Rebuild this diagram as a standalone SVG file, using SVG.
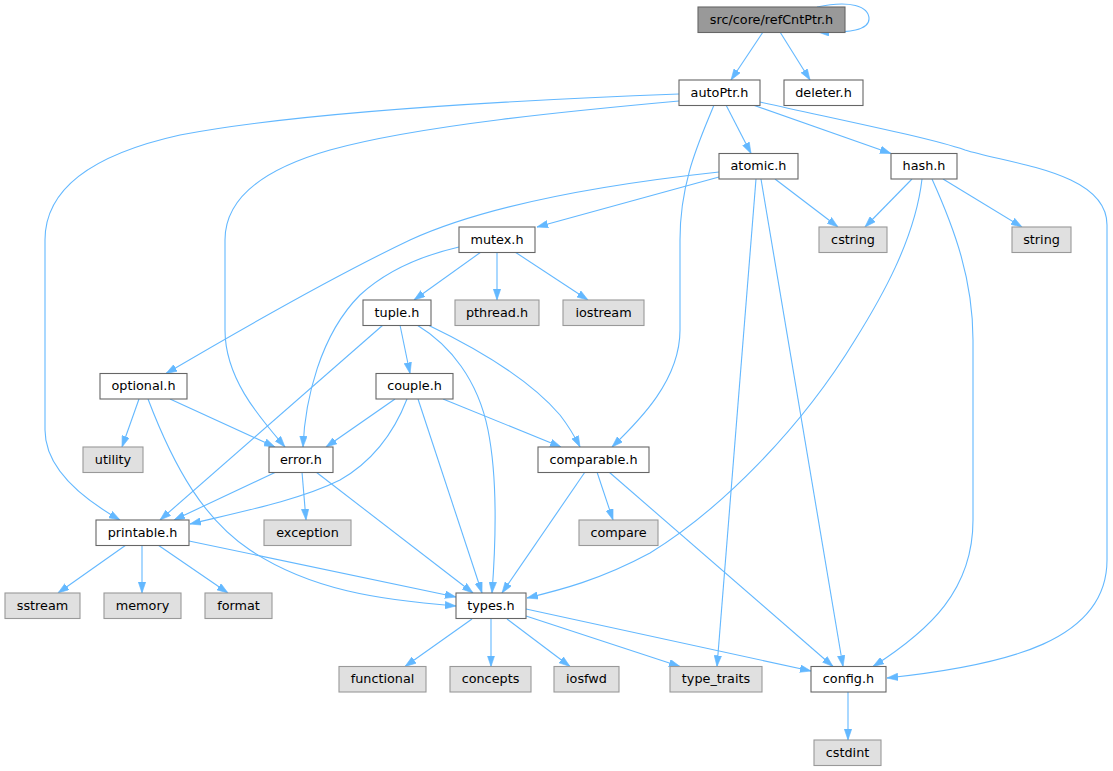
<svg xmlns="http://www.w3.org/2000/svg" width="1113" height="771" viewBox="0 0 1113 771">
<style>
.n rect{fill:#ffffff;stroke:#666666;stroke-width:1.1}
.x rect{fill:#e0e0e0;stroke:#999999;stroke-width:1.1}
.r rect{fill:#999999;stroke:#666666;stroke-width:1.1}
text{font-family:"DejaVu Sans","Liberation Sans",sans-serif;font-size:12.8px;fill:#000000;text-anchor:middle}
#edges path{fill:none;stroke:#63b8ff;stroke-width:1.1;marker-end:url(#a)}
</style>
<defs>
<marker id="a" viewBox="0 0 11 8" refX="11" refY="4" markerWidth="11" markerHeight="8" orient="auto" markerUnits="userSpaceOnUse">
<path d="M0,0.3 L11,4 L0,7.7 z" fill="#63b8ff" stroke="#63b8ff" stroke-width="0.6"/>
</marker>
</defs>
<rect width="1113" height="771" fill="#ffffff"/>
<g id="edges">
<path d="M817,7 C850,0 869,6 869,19 C869,30 850,33 818,32"/>
<path d="M763,32 L731,80"/>
<path d="M780,32 L810,80"/>
<path d="M726,105 L751,153.5"/>
<path d="M753,105 L891,153.5"/>
<path d="M760,102 C850,122 930,138 965,150 C1010,164 1107,172 1107,225 L1107,560 C1107,640 1010,665 887,678"/>
<path d="M714,105 C700,140 680,180 680,240 L680,330 C680,380 640,420 612,447"/>
<path d="M679,94 C520,100 300,112 180,135 C90,155 45,190 45,240 L45,430 C45,470 85,500 120,520"/>
<path d="M679,101 C580,110 420,125 330,150 C260,170 225,200 225,240 L225,330 C225,380 262,420 285,447"/>
<path d="M719,177 L537,227"/>
<path d="M719,172 C590,186 480,208 410,240 C330,278 240,330 166,373.5"/>
<path d="M775,179 L838,227"/>
<path d="M756,179 L717,666.5"/>
<path d="M761,179 L843,666.5"/>
<path d="M912,179 L865,227"/>
<path d="M943,179 L1022,227"/>
<path d="M922,179 C915,240 880,300 855,340 C800,430 720,510 650,553 C600,580 560,590 527,598"/>
<path d="M932,179 C955,230 973,280 973,340 L973,520 C973,590 930,630 873,666.5"/>
<path d="M481,252 L414,300"/>
<path d="M497,252 L497,300"/>
<path d="M515,252 L588,300"/>
<path d="M459,247 C420,256 385,272 360,295 C320,335 305,400 303,447"/>
<path d="M400,325 L410,373.5"/>
<path d="M383,325 L160,520"/>
<path d="M417,325 C450,345 478,380 488,430 C498,480 496,540 492,593"/>
<path d="M428,325 C480,350 530,380 560,415 C570,428 575,437 580,447"/>
<path d="M395,399 L326,447"/>
<path d="M407,399 C395,430 375,460 340,480 C300,500 240,512 190,524"/>
<path d="M418,399 L482,593"/>
<path d="M443,399 L561,447"/>
<path d="M139,399 L122,447"/>
<path d="M170,399 L275,447"/>
<path d="M148,399 C175,470 205,520 250,550 C310,590 380,600 456,606"/>
<path d="M276,472 L174,520"/>
<path d="M302,472 L306,520"/>
<path d="M316,472 L473,593"/>
<path d="M585,472 L502,593"/>
<path d="M597,472 L613,520"/>
<path d="M609,472 L833,666.5"/>
<path d="M126,545 L58,593"/>
<path d="M142,545 L142,593"/>
<path d="M158,545 L228,593"/>
<path d="M189,541 L456,597"/>
<path d="M472,619 L405,666.5"/>
<path d="M491,619 L491,666.5"/>
<path d="M507,619 L570,666.5"/>
<path d="M526,616 L680,666.5"/>
<path d="M526,609 L811,671"/>
<path d="M848,692 L848,740"/>
</g>
<g id="refCntPtr" class="r"><rect x="698" y="7" width="147" height="25.5"/><text x="771.5" y="23.5">src/core/refCntPtr.h</text></g>
<g id="autoPtr" class="n"><rect x="679" y="80" width="81" height="25.5"/><text x="719.5" y="96.5">autoPtr.h</text></g>
<g id="deleter" class="n"><rect x="784" y="80" width="79" height="25.5"/><text x="823.5" y="96.5">deleter.h</text></g>
<g id="atomic" class="n"><rect x="719" y="153.5" width="79" height="25.5"/><text x="758.5" y="170">atomic.h</text></g>
<g id="hash" class="n"><rect x="891" y="153.5" width="66" height="25.5"/><text x="924" y="170">hash.h</text></g>
<g id="cstring" class="x"><rect x="819" y="227" width="68" height="25.5"/><text x="853" y="243.5">cstring</text></g>
<g id="string" class="x"><rect x="1012" y="227" width="59" height="25.5"/><text x="1041.5" y="243.5">string</text></g>
<g id="mutex" class="n"><rect x="459" y="227" width="76" height="25.5"/><text x="497" y="243.5">mutex.h</text></g>
<g id="tuple" class="n"><rect x="363" y="300" width="68" height="25.5"/><text x="397" y="316.5">tuple.h</text></g>
<g id="pthread" class="x"><rect x="455" y="300" width="84" height="25.5"/><text x="497" y="316.5">pthread.h</text></g>
<g id="iostream" class="x"><rect x="563" y="300" width="81" height="25.5"/><text x="603.5" y="316.5">iostream</text></g>
<g id="optional" class="n"><rect x="100" y="373.5" width="87" height="25.5"/><text x="143.5" y="390">optional.h</text></g>
<g id="couple" class="n"><rect x="376" y="373.5" width="77" height="25.5"/><text x="414.5" y="390">couple.h</text></g>
<g id="utility" class="x"><rect x="83" y="447" width="60" height="25.5"/><text x="113" y="463.5">utility</text></g>
<g id="error" class="n"><rect x="269" y="447" width="64" height="25.5"/><text x="301" y="463.5">error.h</text></g>
<g id="comparable" class="n"><rect x="538" y="447" width="111" height="25.5"/><text x="593.5" y="463.5">comparable.h</text></g>
<g id="printable" class="n"><rect x="96" y="520" width="93" height="25.5"/><text x="142.5" y="536.5">printable.h</text></g>
<g id="exception" class="x"><rect x="264" y="520" width="87" height="25.5"/><text x="307.5" y="536.5">exception</text></g>
<g id="compare" class="x"><rect x="579" y="520" width="79" height="25.5"/><text x="618.5" y="536.5">compare</text></g>
<g id="sstream" class="x"><rect x="5" y="593" width="75" height="25.5"/><text x="42.5" y="609.5">sstream</text></g>
<g id="memory" class="x"><rect x="104" y="593" width="77" height="25.5"/><text x="142.5" y="609.5">memory</text></g>
<g id="format" class="x"><rect x="205" y="593" width="67" height="25.5"/><text x="238.5" y="609.5">format</text></g>
<g id="types" class="n"><rect x="456" y="593" width="70" height="25.5"/><text x="491" y="609.5">types.h</text></g>
<g id="functional" class="x"><rect x="339" y="666.5" width="87" height="25.5"/><text x="382.5" y="683">functional</text></g>
<g id="concepts" class="x"><rect x="450" y="666.5" width="81" height="25.5"/><text x="490.5" y="683">concepts</text></g>
<g id="iosfwd" class="x"><rect x="554" y="666.5" width="65" height="25.5"/><text x="586.5" y="683">iosfwd</text></g>
<g id="type_traits" class="x"><rect x="670" y="666.5" width="92" height="25.5"/><text x="716" y="683">type_traits</text></g>
<g id="config" class="n"><rect x="811" y="666.5" width="75" height="25.5"/><text x="848.5" y="683">config.h</text></g>
<g id="cstdint" class="x"><rect x="814" y="740" width="67" height="25.5"/><text x="847.5" y="756.5">cstdint</text></g>
</svg>
